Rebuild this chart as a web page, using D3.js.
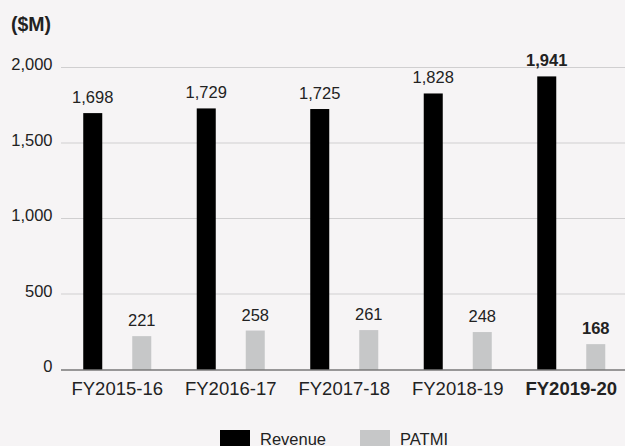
<!DOCTYPE html>
<html>
<head>
<meta charset="utf-8">
<script src="https://cdn.jsdelivr.net/npm/d3@7"></script>
<style>
  html, body { margin: 0; padding: 0; background: #f6f4f5; }
  svg { display: block; font-family: "Liberation Sans", Arial, sans-serif; }
</style>
</head>
<body>
<svg id="chart" width="625" height="446"></svg>
<script>
// values
const years = ["FY2015-16", "FY2016-17", "FY2017-18", "FY2018-19", "FY2019-20"];
const revenue = [1698, 1729, 1725, 1828, 1941];
const patmi = [221, 258, 261, 248, 168];
const yTicks = [0, 500, 1000, 1500, 2000];
const seriesNames = ["Revenue", "PATMI"];
const seriesColors = ["#000000", "#c6c7c8"];

const svg = d3.select("#chart");
const W = 625;
const x0 = 60.5, x1 = 628;        // band range
const yBase = 369.5, yTop = 67.5;

const x = d3.scaleBand().domain(years).range([x0, x1]).padding(0);
const inner = d3.scaleBand().domain(seriesNames).range([0, x.bandwidth()])
  .paddingInner(0.612).paddingOuter(0.464);
const y = d3.scaleLinear().domain([0, 2000]).range([yBase, yTop]);
const fmt = d3.format(",");
const last = years[years.length - 1];

// unit label
svg.append("text").attr("x", 11).attr("y", 31)
  .attr("font-size", 19.5).attr("font-weight", "bold").attr("fill", "#222")
  .text("($M)");

// gridlines + tick labels
const grid = svg.append("g");
grid.selectAll("line").data(yTicks.filter(d => d > 0)).join("line")
  .attr("x1", 61).attr("x2", W)
  .attr("y1", d => y(d)).attr("y2", d => y(d))
  .attr("stroke", "#d0cfd0").attr("stroke-width", 1);
grid.selectAll("text").data(yTicks).join("text")
  .attr("x", 52.5).attr("y", d => y(d) + 2.7)
  .attr("text-anchor", "end").attr("font-size", 16.5).attr("fill", "#222")
  .text(fmt);

// bars
const rows = years.map((yr, i) => ({ yr, vals: [revenue[i], patmi[i]] }));
const groups = svg.append("g").selectAll("g").data(rows).join("g")
  .attr("transform", d => `translate(${x(d.yr)},0)`);

groups.selectAll("rect").data(d => d.vals.map((v, k) => ({ v, k, yr: d.yr }))).join("rect")
  .attr("x", d => inner(seriesNames[d.k]))
  .attr("width", inner.bandwidth())
  .attr("y", d => y(d.v))
  .attr("height", d => yBase - y(d.v))
  .attr("fill", d => seriesColors[d.k]);

groups.selectAll("text.val").data(d => d.vals.map((v, k) => ({ v, k, yr: d.yr }))).join("text")
  .attr("class", "val")
  .attr("x", d => inner(seriesNames[d.k]) + inner.bandwidth() / 2)
  .attr("y", d => y(d.v) - 10)
  .attr("text-anchor", "middle").attr("font-size", 16.5).attr("fill", "#222")
  .attr("font-weight", d => d.yr === last ? "bold" : "normal")
  .text(d => fmt(d.v));

// x axis
const xAxis = svg.append("g").attr("transform", `translate(0,${yBase})`)
  .call(d3.axisBottom(x).tickSize(0).tickPadding(0));
xAxis.select(".domain").attr("d", `M61,0.5H${W}`).attr("stroke", "#3a3a3a");
xAxis.selectAll(".tick text")
  .attr("y", 25.5).attr("dy", 0)
  .attr("font-size", 18.5).attr("fill", "#222")
  .attr("font-family", "Liberation Sans, Arial, sans-serif")
  .attr("font-weight", d => d === last ? "bold" : "normal");

// legend
const legend = svg.append("g").selectAll("g").data(seriesNames).join("g")
  .attr("transform", (d, i) => `translate(${220 + i * 140},430)`);
legend.append("rect").attr("width", 30).attr("height", 16)
  .attr("fill", (d, i) => seriesColors[i]);
legend.append("text").attr("x", 40).attr("y", 14.5)
  .attr("font-size", 16.5).attr("fill", "#222").text(d => d);
</script>
</body>
</html>
